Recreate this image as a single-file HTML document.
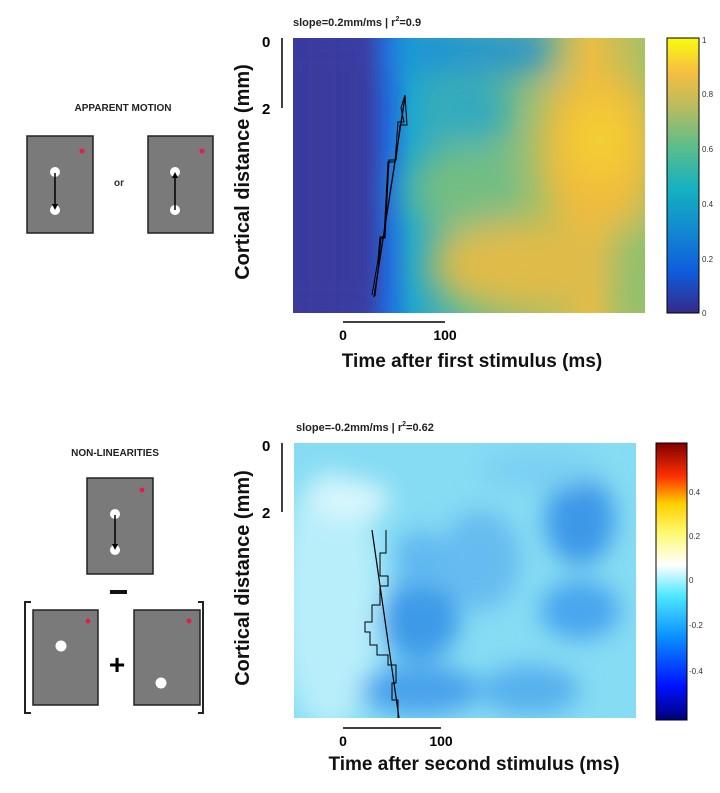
<!DOCTYPE html>
<html><head><meta charset="utf-8"><style>
body{margin:0;background:#fff;width:720px;height:788px;overflow:hidden;font-family:"Liberation Sans",sans-serif}
</style></head><body>
<svg width="720" height="788" viewBox="0 0 720 788" xmlns="http://www.w3.org/2000/svg" font-family="Liberation Sans, sans-serif">
<defs>
<filter id="b1" x="-50%" y="-50%" width="200%" height="200%"><feGaussianBlur stdDeviation="18"/></filter>
<filter id="b2" x="-50%" y="-50%" width="200%" height="200%"><feGaussianBlur stdDeviation="12"/></filter>
<clipPath id="c1"><rect x="293" y="38" width="352" height="275"/></clipPath>
<clipPath id="c2"><rect x="294" y="443" width="342" height="275"/></clipPath>
<linearGradient id="g1" x1="0" x2="1" y1="0" y2="0">
<stop offset="0" stop-color="#3a3a9e"/><stop offset="0.2" stop-color="#3a40a8"/><stop offset="0.27" stop-color="#1f6ee0"/><stop offset="0.34" stop-color="#1ea6cf"/><stop offset="0.5" stop-color="#5cbc96"/><stop offset="0.7" stop-color="#9fbf6a"/><stop offset="0.85" stop-color="#e9bd44"/><stop offset="1" stop-color="#a6c068"/></linearGradient>
<linearGradient id="cb1" x1="0" x2="0" y1="1" y2="0">
<stop offset="0" stop-color="#352a87"/><stop offset="0.15" stop-color="#0f5cdd"/><stop offset="0.3" stop-color="#1289d0"/><stop offset="0.45" stop-color="#14b1c0"/><stop offset="0.6" stop-color="#59bd8c"/><stop offset="0.75" stop-color="#b9bc5e"/><stop offset="0.88" stop-color="#f7bf3e"/><stop offset="1" stop-color="#f9fb0e"/></linearGradient>
<linearGradient id="cb2" x1="0" x2="0" y1="1" y2="0">
<stop offset="0" stop-color="#00007a"/><stop offset="0.12" stop-color="#0010ff"/><stop offset="0.3" stop-color="#0a90ff"/><stop offset="0.45" stop-color="#4fe8ff"/><stop offset="0.56" stop-color="#ffffff"/><stop offset="0.68" stop-color="#fff86a"/><stop offset="0.78" stop-color="#ffd000"/><stop offset="0.88" stop-color="#ff3000"/><stop offset="1" stop-color="#800000"/></linearGradient>
</defs>

<!-- TOP PANEL -->
<text x="293" y="26" font-size="11" font-weight="bold" fill="#222">slope=0.2mm/ms | r<tspan font-size="7" dy="-5">2</tspan><tspan dy="5">=0.9</tspan></text>
<g clip-path="url(#c1)">
<rect x="293" y="38" width="352" height="275" fill="url(#g1)"/>
<g filter="url(#b1)">
<rect x="280" y="30" width="85" height="290" fill="#3a3a9e"/>
<rect x="400" y="30" width="150" height="40" fill="#1e8fd8"/>
<ellipse cx="600" cy="150" rx="55" ry="80" fill="#f0bc3e"/>
<ellipse cx="600" cy="140" rx="28" ry="38" fill="#f4d030"/>
<ellipse cx="520" cy="265" rx="90" ry="45" fill="#e0bb48"/>
<ellipse cx="460" cy="190" rx="50" ry="40" fill="#75bd82"/>
<ellipse cx="470" cy="110" rx="40" ry="30" fill="#2fa8c2"/>
<rect x="615" y="230" width="40" height="90" fill="#8ac070"/>
</g>
</g>
<polyline points="374,297 405,97" fill="none" stroke="#000" stroke-width="1.3"/>
<polyline points="372,295 378,260 380,237 384,237 388,162 395,162 398,122 404,122 401,108 405,95 407,125 400,125 396,160 389,160 385,238 381,238 378,270 375,296" fill="none" stroke="#000" stroke-width="1"/>
<rect x="667" y="38" width="32" height="275" fill="url(#cb1)" stroke="#000" stroke-width="1"/>
<g font-size="8" fill="#333"><text x="702" y="43">1</text><text x="702" y="97">0.8</text><text x="702" y="152">0.6</text><text x="702" y="207">0.4</text><text x="702" y="262">0.2</text><text x="702" y="316">0</text></g>
<line x1="282" y1="38" x2="282" y2="108" stroke="#000" stroke-width="1.5"/>
<text x="262" y="47" font-size="15" font-weight="bold">0</text>
<text x="262" y="114" font-size="15" font-weight="bold">2</text>
<text transform="translate(249,172) rotate(-90)" text-anchor="middle" font-size="20" font-weight="bold" fill="#111">Cortical distance (mm)</text>
<line x1="343" y1="322" x2="445" y2="322" stroke="#000" stroke-width="1.5"/>
<text x="343" y="340" font-size="14" font-weight="bold" text-anchor="middle">0</text>
<text x="445" y="340" font-size="14" font-weight="bold" text-anchor="middle">100</text>
<text x="472" y="367" font-size="19" font-weight="bold" text-anchor="middle" fill="#111">Time after first stimulus (ms)</text>

<text x="123" y="111" font-size="10" font-weight="bold" text-anchor="middle" fill="#222">APPARENT MOTION</text>
<rect x="27" y="136" width="66" height="97" fill="#7a7a7a" stroke="#222" stroke-width="1.5"/>
<rect x="148" y="136" width="65" height="97" fill="#7a7a7a" stroke="#222" stroke-width="1.5"/>
<circle cx="82" cy="151" r="2.5" fill="#e0204a"/><circle cx="202" cy="151" r="2.5" fill="#e0204a"/>
<circle cx="55" cy="172" r="5" fill="#fff"/><circle cx="55" cy="210" r="5" fill="#fff"/>
<circle cx="175" cy="172" r="5" fill="#fff"/><circle cx="175" cy="210" r="5" fill="#fff"/>
<line x1="55" y1="173" x2="55" y2="208" stroke="#000" stroke-width="1.5"/><path d="M52,204 L55,210 L58,204Z" fill="#000"/>
<line x1="175" y1="176" x2="175" y2="210" stroke="#000" stroke-width="1.5"/><path d="M172,178 L175,172 L178,178Z" fill="#000"/>
<text x="119" y="186" font-size="10" font-weight="bold" text-anchor="middle" fill="#333">or</text>

<!-- BOTTOM PANEL -->
<text x="296" y="431" font-size="11" font-weight="bold" fill="#222">slope=-0.2mm/ms | r<tspan font-size="7" dy="-5">2</tspan><tspan dy="5">=0.62</tspan></text>
<g clip-path="url(#c2)">
<rect x="294" y="443" width="342" height="275" fill="#86dcf3"/>
<g filter="url(#b2)">
<ellipse cx="330" cy="600" rx="50" ry="130" fill="#b8eefa"/>
<ellipse cx="350" cy="500" rx="40" ry="20" fill="#d8f6fc"/>
<ellipse cx="420" cy="620" rx="40" ry="40" fill="#3e9ae8"/>
<ellipse cx="420" cy="690" rx="60" ry="25" fill="#4aa2ec"/>
<ellipse cx="580" cy="520" rx="35" ry="45" fill="#3c98e8"/>
<ellipse cx="580" cy="610" rx="40" ry="30" fill="#4aa6ee"/>
<ellipse cx="530" cy="690" rx="50" ry="25" fill="#56b0ee"/>
<ellipse cx="480" cy="560" rx="40" ry="50" fill="#66bcf0"/>
<ellipse cx="540" cy="470" rx="60" ry="20" fill="#7ad0f2"/>
<ellipse cx="420" cy="560" rx="25" ry="30" fill="#60b8f0"/>
</g>
</g>
<polyline points="372,530 399,718" fill="none" stroke="#000" stroke-width="1.2"/>
<polyline points="386,530 386,553 380,553 380,576 388,576 388,586 380,586 380,605 372,605 372,622 365,622 365,632 370,632 370,645 377,645 377,655 388,655 388,665 396,665 396,683 392,683 392,700 398,700 398,718" fill="none" stroke="#000" stroke-width="1"/>
<rect x="656" y="443" width="31" height="277" fill="url(#cb2)" stroke="#000" stroke-width="1"/>
<g font-size="8" fill="#333"><text x="689" y="495">0.4</text><text x="689" y="539">0.2</text><text x="689" y="583">0</text><text x="689" y="628">-0.2</text><text x="689" y="674">-0.4</text></g>
<line x1="282" y1="443" x2="282" y2="512" stroke="#000" stroke-width="1.5"/>
<text x="262" y="451" font-size="15" font-weight="bold">0</text>
<text x="262" y="518" font-size="15" font-weight="bold">2</text>
<text transform="translate(249,578) rotate(-90)" text-anchor="middle" font-size="20" font-weight="bold" fill="#111">Cortical distance (mm)</text>
<line x1="343" y1="728" x2="441" y2="728" stroke="#000" stroke-width="1.5"/>
<text x="343" y="746" font-size="14" font-weight="bold" text-anchor="middle">0</text>
<text x="441" y="746" font-size="14" font-weight="bold" text-anchor="middle">100</text>
<text x="474" y="770" font-size="19" font-weight="bold" text-anchor="middle" fill="#111">Time after second stimulus (ms)</text>

<text x="115" y="456" font-size="10" font-weight="bold" text-anchor="middle" fill="#222">NON-LINEARITIES</text>
<rect x="87" y="478" width="66" height="96" fill="#7a7a7a" stroke="#222" stroke-width="1.5"/>
<circle cx="142" cy="490" r="2.5" fill="#e0204a"/>
<circle cx="115" cy="514" r="5" fill="#fff"/><circle cx="115" cy="550" r="5" fill="#fff"/>
<line x1="115" y1="515" x2="115" y2="548" stroke="#000" stroke-width="1.5"/><path d="M112,544 L115,550 L118,544Z" fill="#000"/>
<rect x="110" y="590" width="17" height="4" fill="#111"/>
<rect x="33" y="610" width="65" height="95" fill="#7a7a7a" stroke="#222" stroke-width="1.5"/>
<rect x="134" y="610" width="66" height="95" fill="#7a7a7a" stroke="#222" stroke-width="1.5"/>
<circle cx="88" cy="621" r="2.5" fill="#e0204a"/><circle cx="189" cy="621" r="2.5" fill="#e0204a"/>
<circle cx="61" cy="646" r="5.5" fill="#fff"/><circle cx="161" cy="683" r="5.5" fill="#fff"/>
<text x="117" y="674" font-size="28" font-weight="bold" text-anchor="middle">+</text>
<path d="M31,602 L25,602 L25,713 L31,713" fill="none" stroke="#222" stroke-width="2"/>
<path d="M198,602 L203,602 L203,713 L198,713" fill="none" stroke="#222" stroke-width="2"/>
</svg>
</body></html>
